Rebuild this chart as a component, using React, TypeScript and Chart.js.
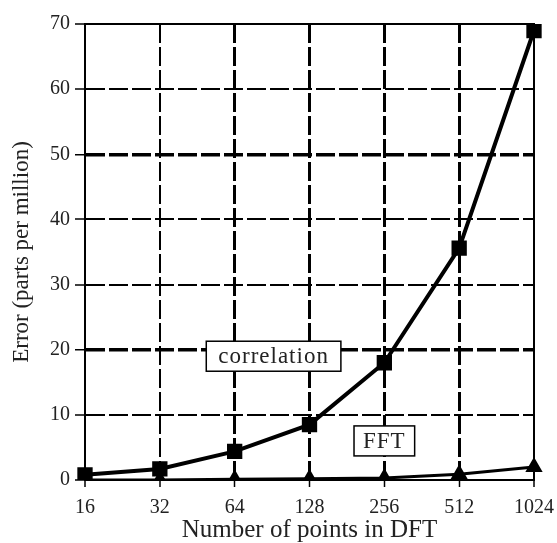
import React, { useEffect, useRef } from "react";
import { Chart, registerables } from "chart.js";

Chart.register(...registerables);

const categories = ["16", "32", "64", "128", "256", "512", "1024"];
const correlation = [0.8, 1.7, 4.4, 8.5, 18.0, 35.6, 69.0];
const fft = [0.0, 0.0, 0.1, 0.2, 0.3, 0.9, 2.0];
const yTicks = [0, 10, 20, 30, 40, 50, 60, 70];
const labels = [
  { text: "correlation", x: 2.52, y: 19.0, pad: 24 },
  { text: "FFT", x: 4, y: 6.0, pad: 18 },
];

const FONT = "'Liberation Serif', 'Times New Roman', serif";

const framePlugin = {
  id: "frameAndLabels",
  afterDatasetsDraw(chart: any) {
    const { ctx, chartArea, scales } = chart;
    ctx.save();
    ctx.strokeStyle = "#000";
    ctx.lineWidth = 2;
    ctx.setLineDash([]);
    ctx.strokeRect(chartArea.left, chartArea.top, chartArea.right - chartArea.left, chartArea.bottom - chartArea.top);
    ctx.font = `23px ${FONT}`;
    (ctx as any).letterSpacing = "1px";
    ctx.textAlign = "center";
    ctx.textBaseline = "middle";
    for (const l of labels) {
      const cx = scales.x.getPixelForValue(l.x);
      const cy = scales.y.getPixelForValue(l.y);
      const w = ctx.measureText(l.text).width + l.pad;
      const h = 30;
      ctx.fillStyle = "#fff";
      ctx.fillRect(cx - w / 2, cy - h / 2, w, h);
      ctx.lineWidth = 1.5;
      ctx.strokeStyle = "#000";
      ctx.strokeRect(cx - w / 2, cy - h / 2, w, h);
      ctx.fillStyle = "#222";
      ctx.fillText(l.text, cx, cy + 1);
    }
    ctx.restore();
  },
};

export default function App() {
  const ref = useRef<HTMLCanvasElement | null>(null);
  useEffect(() => {
    if (!ref.current) return;
    const chart = new Chart(ref.current, {
      type: "line",
      data: {
        labels: categories,
        datasets: [
          {
            label: "correlation",
            data: correlation,
            borderColor: "#000",
            backgroundColor: "#000",
            borderWidth: 4,
            pointStyle: "rect",
            pointRadius: 8,
            pointBackgroundColor: "#000",
            pointBorderColor: "#000",
            tension: 0,
          },
          {
            label: "FFT",
            data: fft,
            borderColor: "#000",
            backgroundColor: "#000",
            borderWidth: 3,
            pointStyle: "triangle",
            pointRadius: 7,
            pointBackgroundColor: "#000",
            pointBorderColor: "#000",
            tension: 0,
          },
        ],
      },
      options: {
        animation: false,
        responsive: false,
        maintainAspectRatio: false,
        layout: { padding: { top: 24, right: 23, left: 0, bottom: 0 } },
        plugins: { legend: { display: false }, tooltip: { enabled: false } },
        scales: {
          x: {
            type: "category",
            offset: false,
            afterFit: (s: any) => {
              s.height = 63;
              s.paddingLeft = 0;
              s.paddingRight = 0;
            },
            grid: {
              color: "#000",
              lineWidth: (c: any) => (c.index >= 2 && c.index <= 5 ? 3 : 2),
              tickLength: 7,
              tickWidth: 1.5,
            },
            border: { display: true, color: "#000", width: 2, dash: [19, 4] },
            ticks: { color: "#222", font: { family: FONT, size: 20 }, padding: 9, maxRotation: 0, autoSkip: false },
            title: { display: true, text: "Number of points in DFT", color: "#222", font: { family: FONT, size: 25, lineHeight: 1 }, padding: { top: 0, bottom: 0 } },
          },
          y: {
            min: 0,
            max: 70,
            afterFit: (s: any) => {
              s.width = 85;
            },
            afterBuildTicks: (s: any) => {
              s.ticks = yTicks.map((v) => ({ value: v }));
            },
            grid: {
              color: "#000",
              lineWidth: (c: any) => (c.tick && (c.tick.value === 20 || c.tick.value === 50) ? 3.5 : 2),
              tickLength: 10,
              tickWidth: 1.5,
            },
            border: { display: true, color: "#000", width: 2, dash: [19, 4] },
            ticks: { color: "#222", font: { family: FONT, size: 20 }, padding: 5 },
            title: { display: true, text: "Error (parts per million)", color: "#222", font: { family: FONT, size: 23 }, padding: { top: 8, bottom: 0 } },
          },
        },
      },
      plugins: [framePlugin],
    });
    return () => chart.destroy();
  }, []);
  return (
    <div style={{ position: "fixed", left: 0, top: 0, width: 557, height: 543, background: "#fff" }}>
      <canvas ref={ref} width={557} height={543} style={{ display: "block", width: 557, height: 543 }} />
    </div>
  );
}
